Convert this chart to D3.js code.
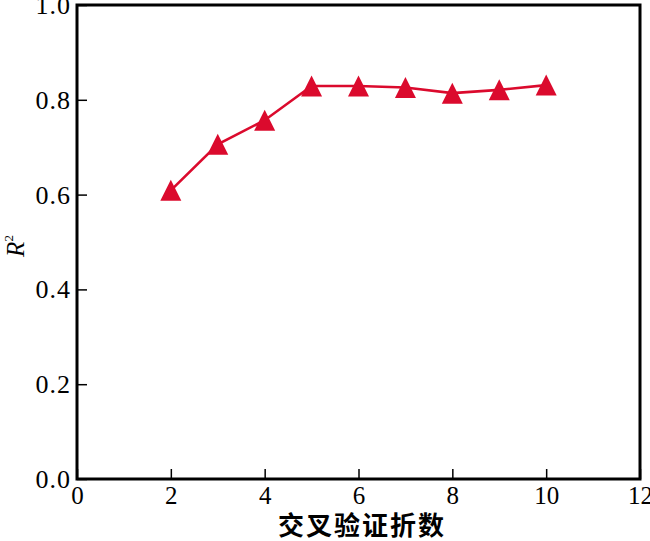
<!DOCTYPE html>
<html><head><meta charset="utf-8">
<script src="https://cdn.jsdelivr.net/npm/d3@7/dist/d3.min.js"></script>
<style>body{margin:0;background:#fff}svg{display:block}</style>
</head><body>
<svg id="c" width="650" height="541"></svg>
<script>
const folds = [2,3,4,5,6,7,8,9,10];
const r2 = [0.609,0.706,0.757,0.829,0.829,0.826,0.814,0.821,0.831];
const xTicks = [0,2,4,6,8,10,12];
const yTicks = [0.0,0.2,0.4,0.6,0.8,1.0];
const xTitle = "交叉验证折数";

const svg = d3.select("#c");
const L=77, R=640, T=5, B=479;
const x = d3.scaleLinear().domain([0,12]).range([L,R]);
const y = d3.scaleLinear().domain([0,1]).range([B,T]);
const serif = "'Liberation Serif','Times New Roman',serif";

const xa = svg.append("g").attr("transform",`translate(0,${B})`)
  .call(d3.axisBottom(x).tickValues(xTicks).tickFormat(d3.format("d")).tickSizeInner(-10).tickSizeOuter(0).tickPadding(7));
const ya = svg.append("g").attr("transform",`translate(${L},0)`)
  .call(d3.axisLeft(y).tickValues(yTicks).tickFormat(d3.format(".1f")).tickSizeInner(-10).tickSizeOuter(0).tickPadding(6));
[xa,ya].forEach(g=>{
  g.select(".domain").remove();
  g.selectAll(".tick line").attr("stroke","#000").attr("stroke-width",1.5);
  g.selectAll(".tick text").attr("font-family",serif).attr("fill","#000");
});
ya.selectAll(".tick text").attr("font-size",26).attr("letter-spacing",1).attr("dy","0.33em");
xa.selectAll(".tick text").attr("font-size",25).attr("dy","0.71em");
xa.selectAll(".tick line").attr("y2",-10);
ya.selectAll(".tick line").attr("x2",10);

svg.append("rect").attr("x",L).attr("y",T).attr("width",R-L).attr("height",B-T)
  .attr("fill","none").attr("stroke","#000").attr("stroke-width",3);

const color="#db0a2d";
const pts = folds.map((f,i)=>[f,r2[i]]);
svg.append("path").datum(pts)
  .attr("d",d3.line().x(d=>x(d[0])).y(d=>y(d[1])))
  .attr("fill","none").attr("stroke",color).attr("stroke-width",2.6);
const s=10.5;
svg.selectAll("path.m").data(pts).enter().append("path").attr("class","m")
  .attr("d",d=>{const cx=x(d[0]),cy=y(d[1]);return `M${cx},${cy-s}L${cx+s},${cy+s}L${cx-s},${cy+s}Z`;})
  .attr("fill",color);

svg.append("text").attr("x",362).attr("y",535).attr("text-anchor","middle")
  .attr("font-family","'Noto Sans CJK SC',sans-serif").attr("font-weight","bold").attr("font-size",26)
  .attr("letter-spacing",2)
  .text(xTitle);

const yl = svg.append("text").attr("transform","translate(24,246) rotate(-90)").attr("text-anchor","middle")
  .attr("font-family",serif).attr("font-size",25);
yl.append("tspan").attr("font-style","italic").text("R");
yl.append("tspan").attr("font-size",13).attr("dy",-11).text("2");
</script>
</body></html>
